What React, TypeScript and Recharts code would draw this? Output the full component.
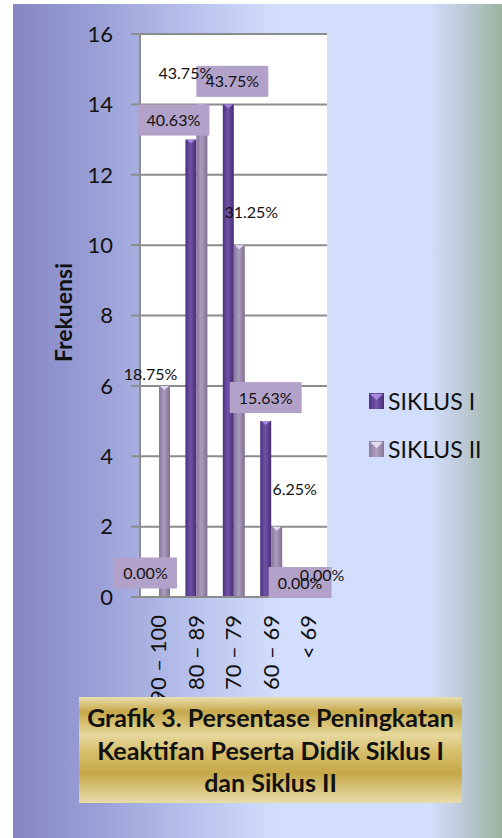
import React from 'react';
import { BarChart, Bar, XAxis, YAxis, CartesianGrid, Legend, LabelList } from 'recharts';

const categories = ['90 – 100', '80 – 89', '70 – 79', '60 – 69', '< 69'];
const siklus1 = [0, 13, 14, 5, 0];
const siklus2 = [6, 14, 10, 2, 0];
const pct1 = ['0.00%', '40.63%', '43.75%', '15.63%', '0.00%'];
const pct2 = ['18.75%', '43.75%', '31.25%', '6.25%', '0.00%'];
const yTicks = [0, 2, 4, 6, 8, 10, 12, 14, 16];

// label nudges (dx, dy) from the bar top centre, as placed in the original
const nudge1 = [[-8, -24], [-17.5, -19.5], [4, -23], [0, -23.5], [-3, -14.5]];
const nudge2 = [[-14, -12], [-16.5, -31], [12, -33], [18, -37.6], [8, -22]];

const FONT = 'Lato, "Open Sans", sans-serif';
const GRID = '#8c8c8c';

const data = categories.map((cat, i) => ({
  cat,
  s1: siklus1[i],
  s2: siklus2[i],
  p1: pct1[i],
  p2: pct2[i],
}));

function BarShape(props: any) {
  const { x, y, width, height, grad, cap } = props;
  if (!height || height <= 0) return null;
  return (
    <g>
      <rect x={x} y={y} width={width} height={height} fill={`url(#${grad})`} />
      <polygon points={`${x + 1},${y} ${x + width - 1},${y} ${x + width / 2},${y + 4}`} fill={cap} />
    </g>
  );
}

function label1(props: any) {
  const { x, y, width, value, index } = props;
  const [dx, dy] = nudge1[index] || [0, -20];
  const cx = x + width / 2 + dx;
  const cy = y + dy;
  const w = String(value).length * 9 + 18;
  return (
    <g>
      <rect x={cx - w / 2} y={cy - 15.5} width={w} height={31} fill="#b2a2ca" />
      <text x={cx} y={cy + 6} textAnchor="middle" fontSize={16} fontFamily={FONT} fill="#111">
        {value}
      </text>
    </g>
  );
}

function label2(props: any) {
  const { x, y, width, value, index } = props;
  const [dx, dy] = nudge2[index] || [0, -14];
  return (
    <text x={x + width / 2 + dx} y={y + dy + 6} textAnchor="middle" fontSize={16} fontFamily={FONT} fill="#111">
      {value}
    </text>
  );
}

function XTick(props: any) {
  const { x, payload } = props;
  return (
    <text
      transform={`translate(${x},615) rotate(-90)`}
      textAnchor="end"
      dy="0.35em"
      fontSize={22}
      fontFamily={FONT}
      fill="#111"
    >
      {payload.value}
    </text>
  );
}

function Marker({ dark }: { dark: boolean }) {
  const id = dark ? 'lg1' : 'lg2';
  return (
    <svg width={15} height={16} style={{ display: 'block' }}>
      <defs>
        <linearGradient id={id} x1="0" y1="0" x2="1" y2="0">
          <stop offset="0%" stopColor={dark ? '#4e3280' : '#8a7a9e'} />
          <stop offset="50%" stopColor={dark ? '#7655ac' : '#b0a2c2'} />
          <stop offset="100%" stopColor={dark ? '#4a2e78' : '#857696'} />
        </linearGradient>
      </defs>
      <rect x={0} y={0} width={15} height={16} fill={`url(#${id})`} />
      <polygon points="1,1 14,1 7.5,7" fill={dark ? '#a88ce0' : '#e6dcf0'} />
    </svg>
  );
}

function renderLegend() {
  const items = [
    { name: 'SIKLUS I', dark: true },
    { name: 'SIKLUS II', dark: false },
  ];
  return (
    <div>
      {items.map((it) => (
        <div key={it.name} style={{ display: 'flex', alignItems: 'center', height: 48 }}>
          <Marker dark={it.dark} />
          <span style={{ marginLeft: 4, fontFamily: FONT, fontSize: 23, color: '#111', lineHeight: '24px' }}>
            {it.name}
          </span>
        </div>
      ))}
    </div>
  );
}

export default function App() {
  return (
    <div
      style={{
        position: 'absolute',
        left: 0,
        top: 0,
        width: 502,
        height: 838,
        overflow: 'hidden',
        background: '#fff',
      }}
    >
      <div
        style={{
          position: 'absolute',
          left: 13,
          top: 4,
          width: 489,
          height: 834,
          background:
            'linear-gradient(90deg, #8587c5 0%, #9ba1d7 18%, #bac4ee 38%, #d3defc 54%, #d3defc 85%, #bccad8 92%, #9bb49f 100%)',
        }}
      />
      <div style={{ position: 'absolute', left: 0, top: 0 }}>
        <BarChart
          width={502}
          height={838}
          data={data}
          margin={{ top: 34, right: 175, left: 0, bottom: 0 }}
          barGap={0}
          barSize={11}
        >
          <defs>
            <linearGradient id="g1" x1="0" y1="0" x2="1" y2="0">
              <stop offset="0%" stopColor="#4c3180" />
              <stop offset="45%" stopColor="#7052a6" />
              <stop offset="100%" stopColor="#482c74" />
            </linearGradient>
            <linearGradient id="g2" x1="0" y1="0" x2="1" y2="0">
              <stop offset="0%" stopColor="#85769a" />
              <stop offset="45%" stopColor="#aa9cbe" />
              <stop offset="100%" stopColor="#807090" />
            </linearGradient>
          </defs>
          <CartesianGrid vertical={false} stroke={GRID} strokeWidth={2} fill="#ffffff" fillOpacity={1} />
          <XAxis
            dataKey="cat"
            height={241}
            axisLine={{ stroke: GRID, strokeWidth: 2 }}
            tickLine={false}
            tick={<XTick />}
            interval={0}
          />
          <YAxis
            width={140}
            domain={[0, 16]}
            ticks={yTicks}
            interval={0}
            axisLine={{ stroke: GRID, strokeWidth: 2 }}
            tickLine={{ stroke: GRID, strokeWidth: 2 }}
            tickSize={9}
            tickMargin={18}
            tick={{ fontSize: 22, fontFamily: FONT, fill: '#111' }}
            label={{
              content: (p: any) => {
                const vb = p.viewBox || { y: 34, height: 563 };
                const cy = vb.y + vb.height / 2 - 3;
                return (
                  <text
                    transform={`translate(64,${cy}) rotate(-90)`}
                    textAnchor="middle"
                    dy="0.35em"
                    fontSize={23}
                    fontWeight={700}
                    fontFamily={FONT}
                    fill="#111"
                  >
                    Frekuensi
                  </text>
                );
              },
            }}
          />
          <Legend
            layout="vertical"
            align="center"
            verticalAlign="middle"
            content={renderLegend}
            wrapperStyle={{ position: 'absolute', left: 369, top: 377, width: 130 }}
          />
          <Bar
            dataKey="s1"
            name="SIKLUS I"
            isAnimationActive={false}
            shape={(p: any) => <BarShape {...p} grad="g1" cap="#a488dc" />}
          >
            <LabelList dataKey="p1" content={label1} />
          </Bar>
          <Bar
            dataKey="s2"
            name="SIKLUS II"
            isAnimationActive={false}
            shape={(p: any) => <BarShape {...p} grad="g2" cap="#e4daf0" />}
          >
            <LabelList dataKey="p2" content={label2} />
          </Bar>
        </BarChart>
      </div>
      <div
        style={{
          position: 'absolute',
          left: 79,
          top: 697,
          width: 383,
          height: 106,
          background:
            'linear-gradient(180deg, #e9dfae 0%, #c6a84a 14%, #e6d89c 36%, #d6be6c 52%, #c6a848 72%, #e8dcaa 100%)',
          display: 'flex',
          flexDirection: 'column',
          justifyContent: 'center',
          alignItems: 'center',
          fontFamily: FONT,
          fontWeight: 700,
          fontSize: 25,
          lineHeight: '32.5px',
          color: '#111',
          textAlign: 'center',
          whiteSpace: 'nowrap',
        }}
      >
        <div>Grafik 3. Persentase Peningkatan</div>
        <div>Keaktifan Peserta Didik Siklus I</div>
        <div>dan Siklus II</div>
      </div>
    </div>
  );
}
